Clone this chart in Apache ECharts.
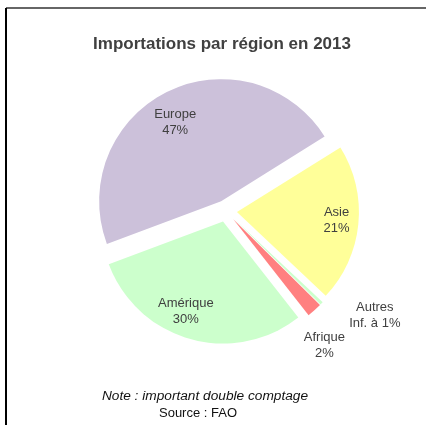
<!DOCTYPE html>
<html>
<head>
<meta charset="utf-8">
<script src="https://cdn.jsdelivr.net/npm/echarts@6/dist/echarts.min.js"></script>
<style>
html, body { margin: 0; padding: 0; background: #fff; }
#chart { width: 426px; height: 425px; }
</style>
</head>
<body>
<div id="chart"></div>
<script>
// données (ordre horaire à partir de la limite Europe / Asie)
const regions = ['Asie', 'Autres', 'Afrique', 'Amérique', 'Europe']
const shares = [21, 0.4, 2, 30, 47]
const shareLabels = ['21%', 'Inf. à 1%', '2%', '30%', '47%']
const colors = ['#ffff99', '#ccffcc', '#ff8080', '#ccffcc', '#ccc1da']

const center = [226, 211]
const radius = 122
const explode = 11
const startAngle = 32
// ancrage des étiquettes : [angle, distance au centre]
const labelAnchors = [[-5, 108], [-35, 179], [-54, 164], [-112, 105], [120, 99]]

const total = shares.reduce((a, b) => a + b, 0)
const midAngles = []
let a = startAngle
shares.forEach(v => {
  const span = v / total * 360
  midAngles.push(a - span / 2)
  a -= span
})

const rad = d => d * Math.PI / 180
const font = 'Liberation Sans, Arial, sans-serif'

const chart = echarts.init(document.getElementById('chart'))
chart.setOption({
  animation: false,
  graphic: [
    {type: 'line', shape: {x1: 6, y1: 8, x2: 426, y2: 8}, style: {stroke: '#333', lineWidth: 1.5}},
    {type: 'line', shape: {x1: 6, y1: 8, x2: 6, y2: 425}, style: {stroke: '#000', lineWidth: 2}},
    {
      type: 'text', x: 222, y: 44,
      style: {text: 'Importations par région en 2013', font: 'bold 17px ' + font, fill: '#404040', align: 'center', verticalAlign: 'middle'}
    },
    {
      type: 'text', x: 205, y: 396,
      style: {text: 'Note : important double comptage', font: 'italic 13.7px ' + font, fill: '#111', align: 'center', verticalAlign: 'middle'}
    },
    {
      type: 'text', x: 198, y: 413,
      style: {text: 'Source : FAO', font: '13px ' + font, fill: '#111', align: 'center', verticalAlign: 'middle'}
    }
  ],
  series: [
    {
      type: 'pie',
      center: center,
      radius: radius,
      startAngle: startAngle,
      clockwise: true,
      selectedMode: 'multiple',
      selectedOffset: explode,
      avoidLabelOverlap: false,
      itemStyle: {borderWidth: 0},
      select: {itemStyle: {borderWidth: 0}},
      emphasis: {disabled: true},
      label: {
        show: true,
        position: 'inside',
        color: '#404040',
        fontSize: 13,
        lineHeight: 16,
        fontFamily: font,
        align: 'center',
        formatter: p => regions[p.dataIndex] + '\n' + shareLabels[p.dataIndex]
      },
      labelLine: {show: false},
      labelLayout: function (params) {
        const i = params.dataIndex
        const m = rad(midAngles[i])
        const cur = explode + radius / 2
        const t = rad(labelAnchors[i][0])
        const d = labelAnchors[i][1]
        return {
          dx: d * Math.cos(t) - cur * Math.cos(m),
          dy: -d * Math.sin(t) + cur * Math.sin(m)
        }
      },
      data: regions.map((name, i) => ({
        name: name,
        value: shares[i],
        selected: true,
        itemStyle: {color: colors[i]}
      }))
    }
  ]
})
</script>
</body>
</html>
